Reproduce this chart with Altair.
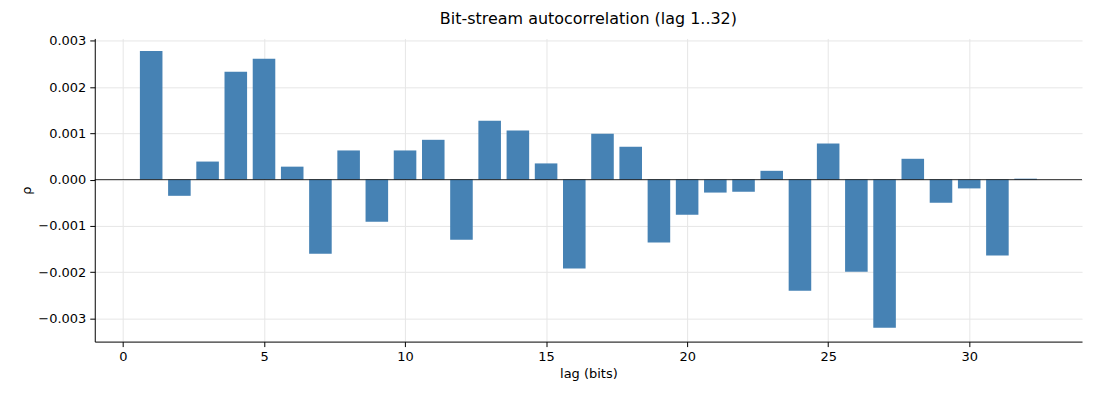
import altair as alt
import pandas as pd

lags = list(range(1, 33))
rho = [0.00278, -0.00035, 0.00039, 0.00233, 0.00261, 0.00028, -0.0016, 0.00063,
       -0.00091, 0.00063, 0.00086, -0.0013, 0.00127, 0.00106, 0.00035, -0.00192,
       0.00099, 0.00071, -0.00136, -0.00076, -0.00028, -0.00026, 0.00019, -0.0024,
       0.00078, -0.00199, -0.0032, 0.00045, -0.0005, -0.00019, -0.00164, 0.00002]

df = pd.DataFrame({"lag": lags, "rho": rho})
df["x0"] = df["lag"] - 0.4
df["x1"] = df["lag"] + 0.4

xs = alt.Scale(domain=[-1, 34], nice=False, zero=False)
ys = alt.Scale(domain=[-0.0035, 0.00305], nice=False)

bars = alt.Chart(df).mark_bar(color="#4682b4").encode(
    x=alt.X("x0:Q", scale=xs, title="lag (bits)",
            axis=alt.Axis(values=[0, 5, 10, 15, 20, 25, 30], gridColor="#e6e6e6")),
    x2="x1:Q",
    y=alt.Y("rho:Q", scale=ys, title="ρ",
            axis=alt.Axis(values=[-0.003, -0.002, -0.001, 0, 0.001, 0.002, 0.003],
                          format=".3f", gridColor="#e6e6e6")),
    y2=alt.datum(0),
)

zero = alt.Chart(pd.DataFrame({"y": [0]})).mark_rule(color="black", strokeWidth=0.8).encode(
    y=alt.Y("y:Q", scale=ys)
)

chart = (bars + zero).properties(
    width=990, height=304,
    title=alt.Title("Bit-stream autocorrelation (lag 1..32)", fontSize=16, fontWeight="normal",
                    font="DejaVu Sans", offset=8),
    autosize=alt.AutoSizeParams(type="none"),
    padding={"left": 87, "top": 30, "right": 10, "bottom": 50},
).configure_view(stroke=None).configure_axis(
    labelFont="DejaVu Sans", titleFont="DejaVu Sans", labelFontSize=13, titleFontSize=13,
    titleFontWeight="normal", domainColor="black", tickColor="black", labelColor="black",
    titleColor="black", labelPadding=4,
).configure_axisY(labelAlign="right")

chart.save("out.html", embed_options={"renderer": "svg", "actions": False})
